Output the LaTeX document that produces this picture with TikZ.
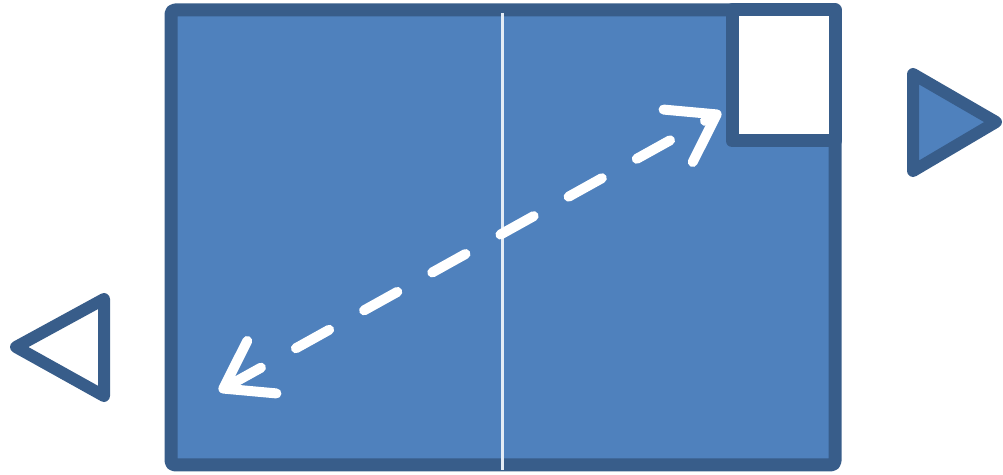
\documentclass[tikz,border=0pt]{standalone}
\usetikzlibrary{arrows.meta}
\definecolor{tblblue}{HTML}{4F81BD}
\definecolor{tbledge}{HTML}{385D8A}

\begin{document}
\begin{tikzpicture}[x=0.5pt,y=-0.5pt,
  edge/.style={draw=tbledge,line width=6.5pt,line join=round},
  ballpath/.style={white,line width=5pt,line cap=round,dash pattern=on 19pt off 20pt}]
\useasboundingbox (0,0) rectangle (1003,475);
% table and net
\draw[edge,fill=tblblue,rounded corners=2pt] (171,10) rectangle (835,465);
\draw[white!85!tblblue,line width=1.5pt] (502,13) -- (502,470);
% square in the corner
\draw[edge,fill=white] (732,10) rectangle (835,141);
% ball path
\coordinate (ballA) at (219,391);
\coordinate (ballB) at (721,112);
\draw[ballpath,{Straight Barb[round,length=22pt,width=30pt]}-{Straight Barb[round,length=22pt,width=30pt]}] (ballA) -- (ballB);
% side markers
\draw[edge,line width=6pt,fill=tblblue] (913,74) -- (996,122) -- (913,171) -- cycle;
\draw[edge,line width=6pt,fill=white] (104,299) -- (16,347) -- (104,396) -- cycle;
\end{tikzpicture}
\end{document}
